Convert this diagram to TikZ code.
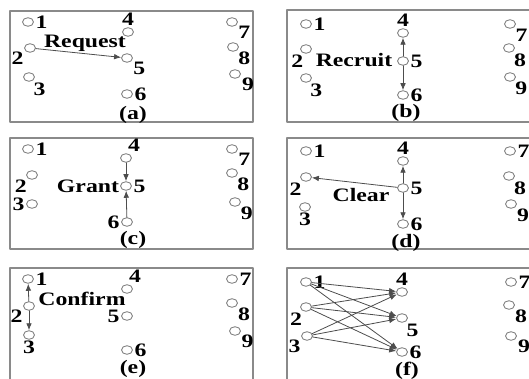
\documentclass[tikz,border=0pt]{standalone}
\usepackage{fontspec}
\setmainfont{Liberation Serif}[FakeStretch=1.25]
\usepackage{tikz}
\usetikzlibrary{arrows.meta,shapes.geometric}
\definecolor{netFrame}{HTML}{8A8A8A}
\definecolor{netRing}{HTML}{808080}
\definecolor{netLine}{HTML}{4D4D4D}
\tikzset{
  net diagram/.style={font=\bfseries\fontsize{9.5}{10}\selectfont,
    x=0.5pt, y=-0.5pt, line cap=round, line join=round},
  net panel/.style={draw=netFrame, line width=0.8pt},
  net node/.style={ellipse, draw=netRing, line width=0.45pt,
    minimum width=5.5pt, minimum height=4.3pt, inner sep=0pt},
  net num/.style={inner sep=0.6pt},
  net msg/.style={inner sep=0pt},
  net arrow/.style={-{Latex[length=3.5pt,width=2.8pt]}, draw=netLine, line width=0.4pt}
}

\begin{document}
\begin{tikzpicture}[net diagram]
\useasboundingbox (0,0) rectangle (529,379);
\clip (0,0) rectangle (529,379);
% frames
\draw[net panel] (10,11) rectangle (253,122);
\draw[net panel] (287,10) rectangle (532,122);
\draw[net panel] (10,138) rectangle (253,249);
\draw[net panel] (287,138) rectangle (532,249);
\draw[net panel] (10,268) rectangle (253,382);
\draw[net panel] (287,268) rectangle (532,382);

% (a) request
\foreach \n/\x/\y/\p in {1/28/22/0, 4/128/32/90, 7/232/22/-32, 2/30/48/-150, 5/127/58/-30,
    8/233/47/-45, 3/29/77/-53, 9/235/74/-20, 6/127/94/0}
  \node[net node, label={[net num]\p:\n}] (a\n) at (\x,\y) {};
\node[net msg] (reqmsg) at (85,43) {Request};
\node[net msg] (capa) at (133,115) {(a)};
\draw[net arrow] (a2) -- (a5);

% (b) recruit
\foreach \n/\x/\y/\p in {1/306/24/0, 4/403/33/90, 7/510/24/-42, 2/306/49/-105, 5/403/61/0,
    8/509/48/-47, 3/306/78/-57, 9/510/77/-45, 6/403/95/0}
  \node[net node, label={[net num]\p:\n}] (b\n) at (\x,\y) {};
\node[net msg] (recmsg) at (354,60) {Recruit};
\node[net msg] (capb) at (406,113) {(b)};
\draw[net arrow] (b5) -- (b4);
\draw[net arrow] (b5) -- (b6);

% (c) grant
\foreach \n/\x/\y/\p in {1/28/149/0, 4/126/158/85, 7/232/149/-32, 2/32/175/-135, 5/126/186/0,
    8/232/173/-43, 3/32/204/180, 9/235/202/-37, 6/127/222/180}
  \node[net node, label={[net num]\p:\n}] (c\n) at (\x,\y) {};
\node[net msg] (grmsg) at (88,186) {Grant};
\node[net msg] (capc) at (133,240) {(c)};
\draw[net arrow] (c4) -- (c5);
\draw[net arrow] (c6) -- (c5);

% (d) clear
\foreach \n/\x/\y/\p in {1/306/151/0, 4/403/161/90, 7/510/151/0, 2/306/177/-125, 5/403/188/0,
    8/509/176/-47, 3/305/207/-90, 9/511/204/-35, 6/403/224/0}
  \node[net node, label={[net num]\p:\n}] (d\n) at (\x,\y) {};
\node[net msg] (clmsg) at (361,195) {Clear};
\node[net msg] (capd) at (406,243) {(d)};
\draw[net arrow] (d5) -- (d4);
\draw[net arrow] (d5) -- (d6);
\draw[net arrow] (d5) -- (d2);

% (e) confirm
\foreach \n/\x/\y/\p in {1/28/279/0, 4/127/289/85, 7/232/279/0, 2/29/306/-150, 5/127/316/180,
    8/232/303/-35, 3/29/335/-90, 9/235/331/-25, 6/127/350/0}
  \node[net node, label={[net num]\p:\n}] (e\n) at (\x,\y) {};
\node[net msg] (cfmsg) at (82,299) {Confirm};
\node[net msg] (cape) at (133,369) {(e)};
\draw[net arrow] (e2) -- (e1);
\draw[net arrow] (e2) -- (e3);

% (f) all pairs
\foreach \n/\x/\y/\p in {1/306/282/0, 4/402/292/90, 7/511/282/0, 2/306/307/-120, 5/402/318/-55,
    8/509/305/-35, 3/307/336/-150, 9/511/336/-20, 6/402/352/0}
  \node[net node, label={[net num]\p:\n}] (f\n) at (\x,\y) {};
\node[net msg] (capf) at (407,371) {(f)};
\foreach \s in {1,2,3}
  \foreach \t in {4,5,6}
    \draw[net arrow] (f\s) -- (f\t);
\end{tikzpicture}
\end{document}
